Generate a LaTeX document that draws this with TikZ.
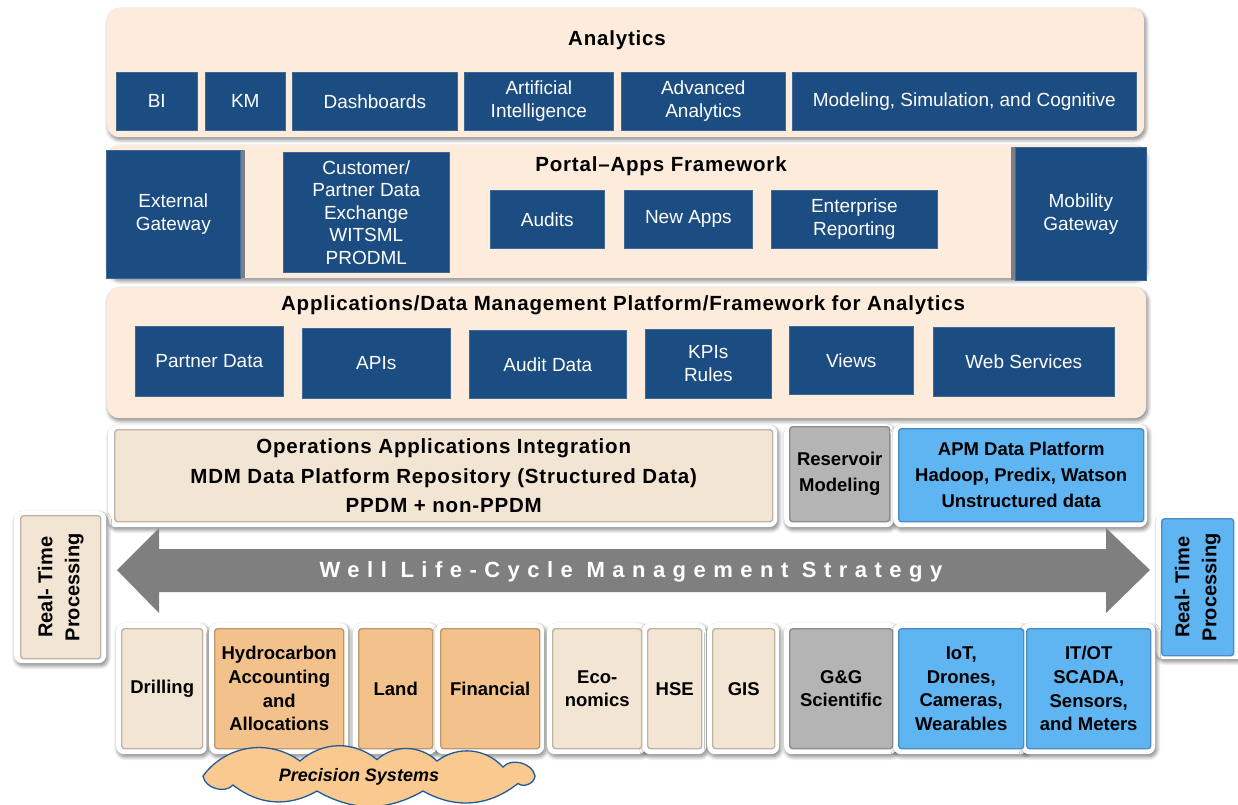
\documentclass[tikz,border=0pt]{standalone}
\usepackage{fontspec}
\setmainfont{Liberation Sans}
\newfontfamily\strategyfont[LetterSpace=34]{Liberation Sans}
\newfontfamily\widefont[LetterSpace=4]{Liberation Sans}
\usetikzlibrary{shadows.blur}

\definecolor{panelfill}{HTML}{FDEBDB}
\definecolor{navy}{HTML}{1B4C82}
\definecolor{beige}{HTML}{F3E5D4}
\definecolor{amber}{HTML}{F3C28C}
\definecolor{stone}{HTML}{B4B4B4}
\definecolor{sky}{HTML}{5FB4F2}
\definecolor{arrowgray}{HTML}{7F7F7F}
\definecolor{strip}{HTML}{7A7F86}
\definecolor{cloudfill}{HTML}{F9C98F}
\definecolor{cloudline}{HTML}{1F5A9A}

\begin{document}
\begin{tikzpicture}[x=1pt,y=-1pt,
  soft/.style={blur shadow={shadow xshift=1.5pt,shadow yshift=-2.5pt,shadow blur radius=4pt,shadow blur steps=8,shadow opacity=50}},
  panel/.style={soft,fill=panelfill,rounded corners=12pt,anchor=north west,inner sep=0pt},
  title/.style={font=\widefont\bfseries\fontsize{20.5}{24}\selectfont},
  navybox/.style={fill=navy,draw=navy!85!white,line width=0.6pt,text=white,anchor=north west,inner sep=0pt,
    align=center,font=\fontsize{19}{23}\selectfont},
  stripbox/.style={fill=strip,anchor=north west,inner sep=0pt},
  rim/.style={soft,fill=white,rounded corners=8pt,anchor=north west,inner sep=0pt},
  tile/.style={fill=#1,draw=#1!78!black,line width=1.4pt,rounded corners=3pt,anchor=north west,
    inner sep=0pt,align=center,font=\bfseries\fontsize{18.5}{23.6}\selectfont},
  puffs/.style={fill=cloudfill,draw=cloudline,line width=1.3pt},
]
\useasboundingbox (0,0) rectangle (1238,804);

% ---------------- Analytics layer ----------------
\node[panel,minimum width=1037pt,minimum height=129pt] (analytics-bg) at (107,8) {};
\node[title] (analytics) at (617,40) {Analytics};
\node[navybox,minimum width=81pt,minimum height=58pt]  (bi)   at (116,72) {BI};
\node[navybox,minimum width=80pt,minimum height=58pt]  (km)   at (205,72) {KM};
\node[navybox,minimum width=165pt,minimum height=58pt] (dash) at (292,72) {Dashboards};
\node[navybox,minimum width=149pt,minimum height=58pt] (ai)   at (464,72) {Artificial\\Intelligence};
\node[navybox,minimum width=164pt,minimum height=58pt] (adv)  at (621,72) {Advanced\\Analytics};
\node[navybox,minimum width=344pt,minimum height=58pt] (msc)  at (792,72) {Modeling, Simulation, and Cognitive};

% ---------------- Portal / apps layer ----------------
\node[panel,minimum width=1038pt,minimum height=133pt] (portal-bg) at (107,145) {};
\node[stripbox,minimum width=139pt,minimum height=128pt] (ext-strip) at (106,150) {};
\node[navybox,minimum width=134pt,minimum height=128pt] (extgw) at (106,150) {External\\Gateway};
\node[navybox,minimum width=166pt,minimum height=120pt,font=\fontsize{19}{22.5}\selectfont] (cust) at (283,152)
  {Customer/\\Partner Data\\Exchange\\WITSML\\PRODML};
\node[title] (portal) at (661,166) {Portal–Apps Framework};
\node[navybox,minimum width=114pt,minimum height=58pt] (audits) at (490,190) {Audits};
\node[navybox,minimum width=128pt,minimum height=58pt] (newapps) at (624,190) {New Apps};
\node[navybox,minimum width=166pt,minimum height=58pt] (entrep) at (771,190) {Enterprise\\Reporting};
\node[stripbox,minimum width=135pt,minimum height=133pt] (mob-strip) at (1011,147) {};
\node[navybox,minimum width=131pt,minimum height=133pt] (mobgw) at (1015,147) {Mobility\\Gateway};

% ---------------- Applications / data management layer ----------------
\node[panel,minimum width=1039pt,minimum height=131pt] (apps-bg) at (107,287) {};
\node[title] (apps) at (623,305) {Applications/Data Management Platform/Framework for Analytics};
\node[navybox,minimum width=148pt,minimum height=70pt] (partner) at (135,326) {Partner Data};
\node[navybox,minimum width=148pt,minimum height=70pt] (apis)    at (302,328) {APIs};
\node[navybox,minimum width=157pt,minimum height=68pt] (auditd)  at (469,330) {Audit Data};
\node[navybox,minimum width=126pt,minimum height=69pt] (kpis)    at (645,329) {KPIs\\Rules};
\node[navybox,minimum width=124pt,minimum height=68pt] (views)   at (789,326) {Views};
\node[navybox,minimum width=181pt,minimum height=69pt] (websvc)  at (933,327) {Web Services};

% ---------------- Integration layer ----------------
\node[rim,minimum width=669pt,minimum height=102pt] (ops-rim) at (108,425) {};
\node[rim,minimum width=110pt,minimum height=103pt] (res-rim) at (784,424) {};
\node[rim,minimum width=254pt,minimum height=103pt] (apm-rim) at (893,424) {};
\node[tile=beige,minimum width=658pt,minimum height=92pt,font=\widefont\bfseries\fontsize{20.5}{29.5}\selectfont] (ops) at (114,429)
  {Operations Applications Integration\\MDM Data Platform Repository (Structured Data)\\PPDM + non-PPDM};
\node[tile=stone,minimum width=100pt,minimum height=95pt,font=\bfseries\fontsize{18.5}{26}\selectfont] (resmod) at (789,426)
  {Reservoir\\Modeling};
\node[tile=sky,minimum width=245pt,minimum height=93pt,font=\bfseries\fontsize{18.5}{26}\selectfont] (apm) at (898,428)
  {APM Data Platform\\Hadoop, Predix, Watson\\Unstructured data};

% ---------------- Strategy arrow ----------------
\fill[arrowgray] (117,570) -- (159,528) -- (159,549) -- (1106,549) -- (1106,528) -- (1150,570)
  -- (1106,613) -- (1106,592) -- (159,592) -- (159,613) -- cycle;
\node[text=white,font=\strategyfont\bfseries\fontsize{22}{26}\selectfont] (strategy) at (631,572)
  {Well Life-Cycle Management Strategy};

% ---------------- Real-time processing ----------------
\node[rim,minimum width=92pt,minimum height=152pt] (rt-left-rim) at (14,511) {};
\node[tile=beige,minimum width=80pt,minimum height=143pt] (rt-left-box) at (20,515) {};
\node[rotate=90,align=center,font=\bfseries\fontsize{20}{27}\selectfont] (rt-left) at (rt-left-box.center)
  {Real- Time\\Processing};
\node[rim,minimum width=90pt,minimum height=146pt] (rt-right-rim) at (1156,513) {};
\node[tile=sky,minimum width=72pt,minimum height=137pt] (rt-right-box) at (1161,518) {};
\node[rotate=90,align=center,font=\bfseries\fontsize{20}{27}\selectfont] (rt-right) at (rt-right-box.center)
  {Real- Time\\Processing};

% ---------------- Operational systems ----------------
\foreach \nm/\xx/\ww in {drill/121/81, hydro/214/129, land/358/74, fin/440/99, eco/552/89,
    hse/647/54, gis/712/62, gg/789/103, iot/898/125, itot/1026/124}
  \node[rim,minimum width=\ww pt+10pt,minimum height=131pt] (\nm-rim) at (\xx-5,623) {};
\node[tile=beige,minimum width=81pt,minimum height=120pt]  (drill) at (121,628) {Drilling};
\node[tile=amber,minimum width=129pt,minimum height=120pt] (hydro) at (214,628) {Hydrocarbon\\Accounting\\and\\Allocations};
\node[tile=amber,minimum width=74pt,minimum height=120pt]  (land)  at (358,628) {Land};
\node[tile=amber,minimum width=99pt,minimum height=120pt]  (fin)   at (440,628) {Financial};
\node[tile=beige,minimum width=89pt,minimum height=120pt]  (eco)   at (552,628) {Eco-\\nomics};
\node[tile=beige,minimum width=54pt,minimum height=120pt]  (hse)   at (647,628) {HSE};
\node[tile=beige,minimum width=62pt,minimum height=120pt]  (gis)   at (712,628) {GIS};
\node[tile=stone,minimum width=103pt,minimum height=120pt] (gg)    at (789,628) {G\&G\\Scientific};
\node[tile=sky,minimum width=125pt,minimum height=120pt]   (iot)   at (898,628) {IoT,\\Drones,\\Cameras,\\Wearables};
\node[tile=sky,minimum width=124pt,minimum height=120pt]   (itot)  at (1026,628) {IT/OT\\SCADA,\\Sensors,\\and Meters};

% ---------------- Precision systems cloud ----------------
\draw[puffs] (503,767) to[bend left=65] (535,776) to[bend left=65] (518,783.4)
  to[bend left=34] (423,791) to[bend left=30] (317,791) to[bend left=34] (233,785)
  to[bend left=65] (203,776) to[bend left=45] (300,761) to[bend left=40] (377,759.5)
  to[bend left=42] (437,761) to[bend left=42] (503,767) -- cycle;
\node[font=\bfseries\itshape\fontsize{18}{21}\selectfont] (precision) at (359,777) {Precision Systems};
\end{tikzpicture}
\end{document}
